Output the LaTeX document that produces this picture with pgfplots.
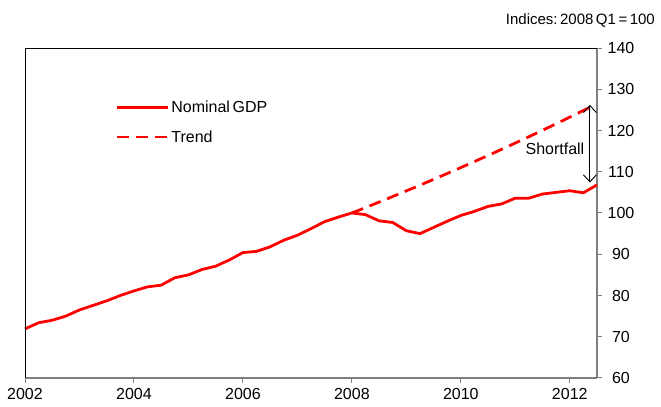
\documentclass[border=0pt]{standalone}
\usepackage{pgfplots}
\pgfplotsset{compat=1.18}
\usepackage{fontspec}
\setmainfont{Liberation Sans}
\usetikzlibrary{arrows.meta,calc}
\definecolor{axgray}{RGB}{128,128,128}
\begin{document}
\begin{tikzpicture}
\begin{axis}[
  name=ax,
  scale only axis,
  width=572bp, height=330bp,
  xmin=2002, xmax=2012.5,
  ymin=60, ymax=140,
  axis x line*=bottom,
  axis y line*=right,
  axis line style={axgray, line width=1.3pt},
  tick style={axgray, line width=1pt},
  tick align=outside,
  major tick length=5bp,
  xtick={2002,2004,2006,2008,2010,2012},
  ytick={60,70,80,90,100,110,120,130,140},
  /pgf/number format/1000 sep={},
  /pgf/number format/assume math mode=true,
  ticklabel style={font=\fontsize{16bp}{18bp}\selectfont, text=black},
  yticklabel style={anchor=center, xshift=19bp},
  xticklabel style={anchor=center, yshift=-11bp},
  legend style={draw=none, fill=none, at={(axis description cs:0.158,0.845)}, anchor=north west,
     font=\fontsize{16bp}{18bp}\selectfont, row sep=12bp, inner sep=0pt},
  legend cell align=left,
  legend image code/.code={\draw[#1] (0bp,0bp) -- (51bp,0bp);},
  clip=false,
]
\addplot[red, line width=2.8pt, line join=round] coordinates {
(2002.00,71.9) (2002.25,73.4) (2002.50,74.0) (2002.75,75.0) (2003.00,76.5) (2003.25,77.6)
(2003.50,78.7) (2003.75,80.0) (2004.00,81.1) (2004.25,82.1) (2004.50,82.5) (2004.75,84.3)
(2005.00,85.0) (2005.25,86.3) (2005.50,87.1) (2005.75,88.6) (2006.00,90.4) (2006.25,90.7)
(2006.50,91.8) (2006.75,93.4) (2007.00,94.6) (2007.25,96.2) (2007.50,97.9) (2007.75,99.0)
(2008.00,100.0) (2008.25,99.6) (2008.50,98.1) (2008.75,97.7) (2009.00,95.7) (2009.25,95.0)
(2009.50,96.5) (2009.75,98.0) (2010.00,99.4) (2010.25,100.4) (2010.50,101.6) (2010.75,102.2)
(2011.00,103.6) (2011.25,103.6) (2011.50,104.6) (2011.75,105.0) (2012.00,105.4) (2012.25,104.9)
(2012.50,106.8)
};
\addlegendentry{Nominal\,GDP}
\addplot[red, line width=2.8pt, dash pattern=on 12bp off 7bp] coordinates {
(2008.00,100.00) (2008.25,101.31) (2008.50,102.64) (2008.75,103.99) (2009.00,105.36)
(2009.25,106.74) (2009.50,108.15) (2009.75,109.57) (2010.00,111.01) (2010.25,112.47)
(2010.50,113.94) (2010.75,115.44) (2011.00,116.96) (2011.25,118.49) (2011.50,120.05)
(2011.75,121.63) (2012.00,123.23) (2012.25,124.85) (2012.45,126.15)
};
\addlegendentry{Trend}
\draw[black, line width=0.9pt, {Straight Barb[length=7bp,width=13bp]}-{Straight Barb[length=7bp,width=13bp]}]
  (axis cs:2012.37,126.2) -- (axis cs:2012.37,107.4);
\node[anchor=east, font=\fontsize{16bp}{18bp}\selectfont, inner sep=0pt] at (axis cs:2012.27,115.6) {Shortfall};
\draw[black, line width=1pt] (rel axis cs:0,0) -- (rel axis cs:0,1) -- (rel axis cs:1,1);
\end{axis}
\node[anchor=base east, font=\fontsize{15bp}{17bp}\selectfont, inner sep=0pt] at ($(ax.north east)+(58bp,23bp)$) {Indices:\,2008\,Q1\,=\,100};
\pgfresetboundingbox
\path[use as bounding box] ($(ax.south west)+(-25bp,-29bp)$) rectangle ($(ax.north east)+(64bp,48bp)$);
\end{tikzpicture}
\end{document}
